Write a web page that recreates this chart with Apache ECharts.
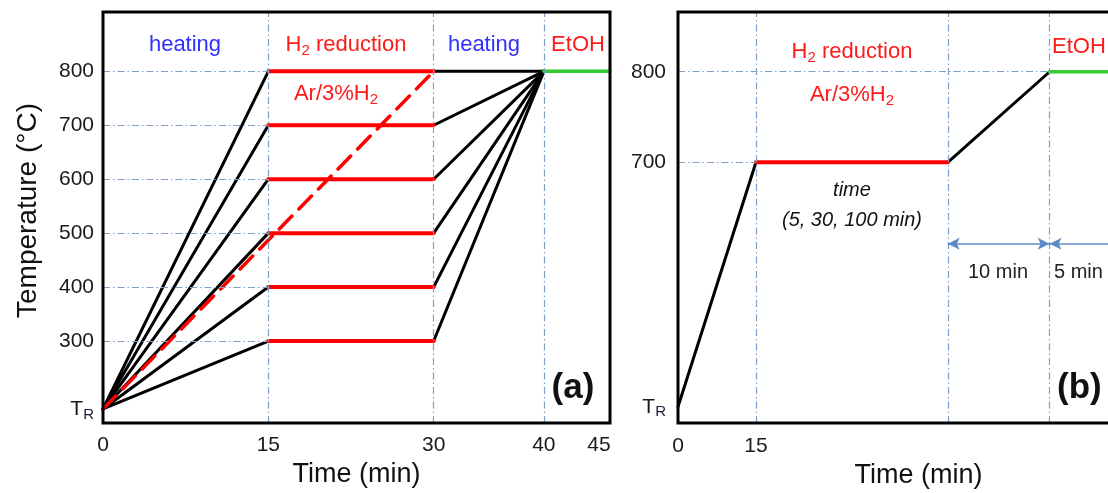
<!DOCTYPE html>
<html>
<head>
    <meta charset="utf-8">
    <script src="https://cdn.jsdelivr.net/npm/echarts@6/dist/echarts.min.js"></script>
</head>
<body style="margin:0">
    <div id="main" style="width:1108px;height:493px"></div>
    <script type="text/javascript">
        // panel (a): heating -> H2 hold at several temperatures -> heating -> EtOH
        var holdTempsA = [300, 400, 500, 600, 700, 800];
        var tRoomA = 174;
        var timeA = [0, 15, 30, 40, 46];      // start, hold start, hold end, EtOH start, axis end
        var finalTemp = 800;
        var rampA = [[0, 174], [30, 800]];    // dashed direct ramp
        var xTicksA = [0, 15, 30, 40, 45];
        var yTicksA = [174, 300, 400, 500, 600, 700, 800];

        // panel (b): one 700 C hold of variable length
        var timeB = [0, 15, 51.9, 71.5, 86];
        var tempB = [430, 700, 700, 800, 800];
        var xTicksB = [0, 15];
        var yTicksB = [430, 700, 800];
        var arrowY = 610;

        var font = 'Liberation Sans, Arial, sans-serif';
        var guide = { color: '#7f9fcb', width: 1.2, type: [7, 3, 1.5, 3] };

        function seg(p, q, color, width, dash) {
            return {
                type: 'line', data: [p, q], symbol: 'none', silent: true,
                lineStyle: { color: color, width: width, type: dash || 'solid', cap: 'round' }
            };
        }

        function trLabel(tr) {
            return function (v) { return v === tr ? '{t|T}{s|R}' : String(v); };
        }
        var trRich = {
            t: { fontSize: 21, fontFamily: font, color: '#1a1a1a' },
            s: { fontSize: 15, fontFamily: font, color: '#1a1a3a', padding: [11, 0, 0, 0] }
        };

        var series = [];

        // guide lines panel (a)
        var guidesA = holdTempsA.map(function (t) { return [{ coord: [timeA[0], t] }, { coord: [timeA[1], t] }]; });
        [timeA[1], timeA[2], timeA[3]].forEach(function (x) { guidesA.push([{ coord: [x, 148] }, { coord: [x, 910] }]); });
        series.push({
            type: 'line', xAxisIndex: 0, yAxisIndex: 0, data: [], silent: true,
            markLine: { symbol: 'none', silent: true, label: { show: false }, lineStyle: guide, data: guidesA }
        });

        // heating ramps and holds
        holdTempsA.forEach(function (t) {
            series.push(seg([timeA[0], tRoomA], [timeA[1], t], '#000', 3));
            series.push(seg([timeA[2], t], [timeA[3], finalTemp], '#000', 3));
        });
        series.push(seg(rampA[0], rampA[1], '#ff0000', 3.5, [18, 10]));
        holdTempsA.forEach(function (t) {
            series.push(seg([timeA[1], t], [timeA[2], t], '#ff0000', 4));
        });
        series.push(seg([timeA[3], finalTemp], [timeA[4], finalTemp], '#33cc33', 3.5));
        series.forEach(function (s) { s.xAxisIndex = 0; s.yAxisIndex = 0; });

        // panel (b)
        var guidesB = [
            [{ coord: [timeB[0], tempB[1]] }, { coord: [timeB[1], tempB[1]] }],
            [{ coord: [timeB[0], tempB[3]] }, { coord: [timeB[3], tempB[3]] }]
        ];
        [timeB[1], timeB[2], timeB[3]].forEach(function (x) { guidesB.push([{ coord: [x, 412] }, { coord: [x, 866] }]); });
        var bSeries = [
            {
                type: 'line', data: [], silent: true,
                markLine: { symbol: 'none', silent: true, label: { show: false }, lineStyle: guide, data: guidesB }
            },
            {
                type: 'line', data: [], silent: true,
                markLine: {
                    symbol: ['arrow', 'arrow'], symbolSize: [9, 12], silent: true, label: { show: false },
                    lineStyle: { color: '#5b8bc5', width: 1.5, type: 'solid' },
                    data: [
                        [{ coord: [timeB[2], arrowY] }, { coord: [timeB[3], arrowY] }],
                        [{ coord: [timeB[3], arrowY] }, { coord: [timeB[4], arrowY] }]
                    ]
                }
            },
            seg([timeB[0], tempB[0]], [timeB[1], tempB[1]], '#000', 3),
            seg([timeB[2], tempB[2]], [timeB[3], tempB[3]], '#000', 3),
            seg([timeB[1], tempB[1]], [timeB[2], tempB[2]], '#ff0000', 4),
            seg([timeB[3], tempB[3]], [timeB[4], tempB[4]], '#33cc33', 3.5)
        ];
        bSeries.forEach(function (s) { s.xAxisIndex = 1; s.yAxisIndex = 1; series.push(s); });

        function txt(x, y, text, color, size, extra) {
            var st = { x: x, y: y, text: text, fill: color, font: size + 'px ' + font, align: 'center', verticalAlign: 'middle',
                rich: { s: { fontSize: Math.round(size * 0.68), fontFamily: font, fill: color, padding: [Math.round(size * 0.5), 0, 0, 0] } } };
            for (var k in extra) st[k] = extra[k];
            return { type: 'text', silent: true, z: 100, style: st };
        }

        var blue = '#2f2fff', red = '#ff1a1a';
        var graphics = [
            txt(185, 45, 'heating', blue, 22),
            txt(346, 45, 'H{s|2} reduction', red, 22),
            txt(484, 45, 'heating', blue, 22),
            txt(578, 45, 'EtOH', red, 22),
            txt(336, 94, 'Ar/3%H{s|2}', red, 22),
            txt(573, 388, '(a)', '#111', 35, { font: 'bold 35px ' + font }),
            txt(852, 52, 'H{s|2} reduction', red, 22),
            txt(852, 95, 'Ar/3%H{s|2}', red, 22),
            txt(852, 190, 'time', '#111', 20, { font: 'italic 20px ' + font }),
            txt(852, 220, '(5, 30, 100 min)', '#111', 20, { font: 'italic 20px ' + font }),
            txt(998, 272, '10 min', '#222', 20),
            txt(1054, 272, '5 min', '#222', 20, { align: 'left' }),
            txt(1052, 47, 'EtOH', red, 22, { align: 'left' }),
            txt(1057, 388, '(b)', '#111', 35, { font: 'bold 35px ' + font, align: 'left' })
        ];

        var axisFont = { fontSize: 21, fontFamily: font, color: '#1a1a1a' };
        var myChart = echarts.init(document.getElementById('main'));
        var option = {
            animation: false,
            backgroundColor: '#fff',
            grid: [
                { left: 103, top: 12, width: 507, height: 411, show: true, borderColor: '#000', borderWidth: 3, z: 10, outerBoundsMode: 'none' },
                { left: 678, top: 12, width: 447, height: 411, show: true, borderColor: '#000', borderWidth: 3, z: 10, outerBoundsMode: 'none' }
            ],
            xAxis: [
                {
                    gridIndex: 0, type: 'value', min: 0, max: 46,
                    name: 'Time (min)', nameLocation: 'middle', nameGap: 35,
                    nameTextStyle: { fontSize: 27, fontFamily: font, color: '#111' },
                    axisLine: { show: false }, axisTick: { show: false }, splitLine: { show: false },
                    axisLabel: Object.assign({ customValues: xTicksA, margin: 12, showMaxLabel: true }, axisFont)
                },
                {
                    gridIndex: 1, type: 'value', min: 0, max: 86,
                    name: 'Time (min)', nameLocation: 'middle', nameGap: 33,
                    nameTextStyle: { fontSize: 27, fontFamily: font, color: '#111', padding: [0, 0, 0, 34] },
                    axisLine: { show: false }, axisTick: { show: false }, splitLine: { show: false },
                    axisLabel: Object.assign({ customValues: xTicksB, margin: 13 }, axisFont)
                }
            ],
            yAxis: [
                {
                    gridIndex: 0, type: 'value', min: 148, max: 910,
                    name: 'Temperature (°C)', nameLocation: 'middle', nameGap: 61, nameRotate: 90,
                    nameTextStyle: { fontSize: 28, fontFamily: font, color: '#111', padding: [0, 0, 0, 14] },
                    axisLine: { show: false }, axisTick: { show: false }, splitLine: { show: false },
                    axisLabel: Object.assign({ customValues: yTicksA, margin: 9, formatter: trLabel(tRoomA), rich: trRich }, axisFont)
                },
                {
                    gridIndex: 1, type: 'value', min: 412, max: 866,
                    axisLine: { show: false }, axisTick: { show: false }, splitLine: { show: false },
                    axisLabel: Object.assign({ customValues: yTicksB, margin: 12, formatter: trLabel(tempB[0]), rich: trRich }, axisFont)
                }
            ],
            series: series,
            graphic: graphics
        };
        myChart.setOption(option);
    </script>
</body>
</html>
